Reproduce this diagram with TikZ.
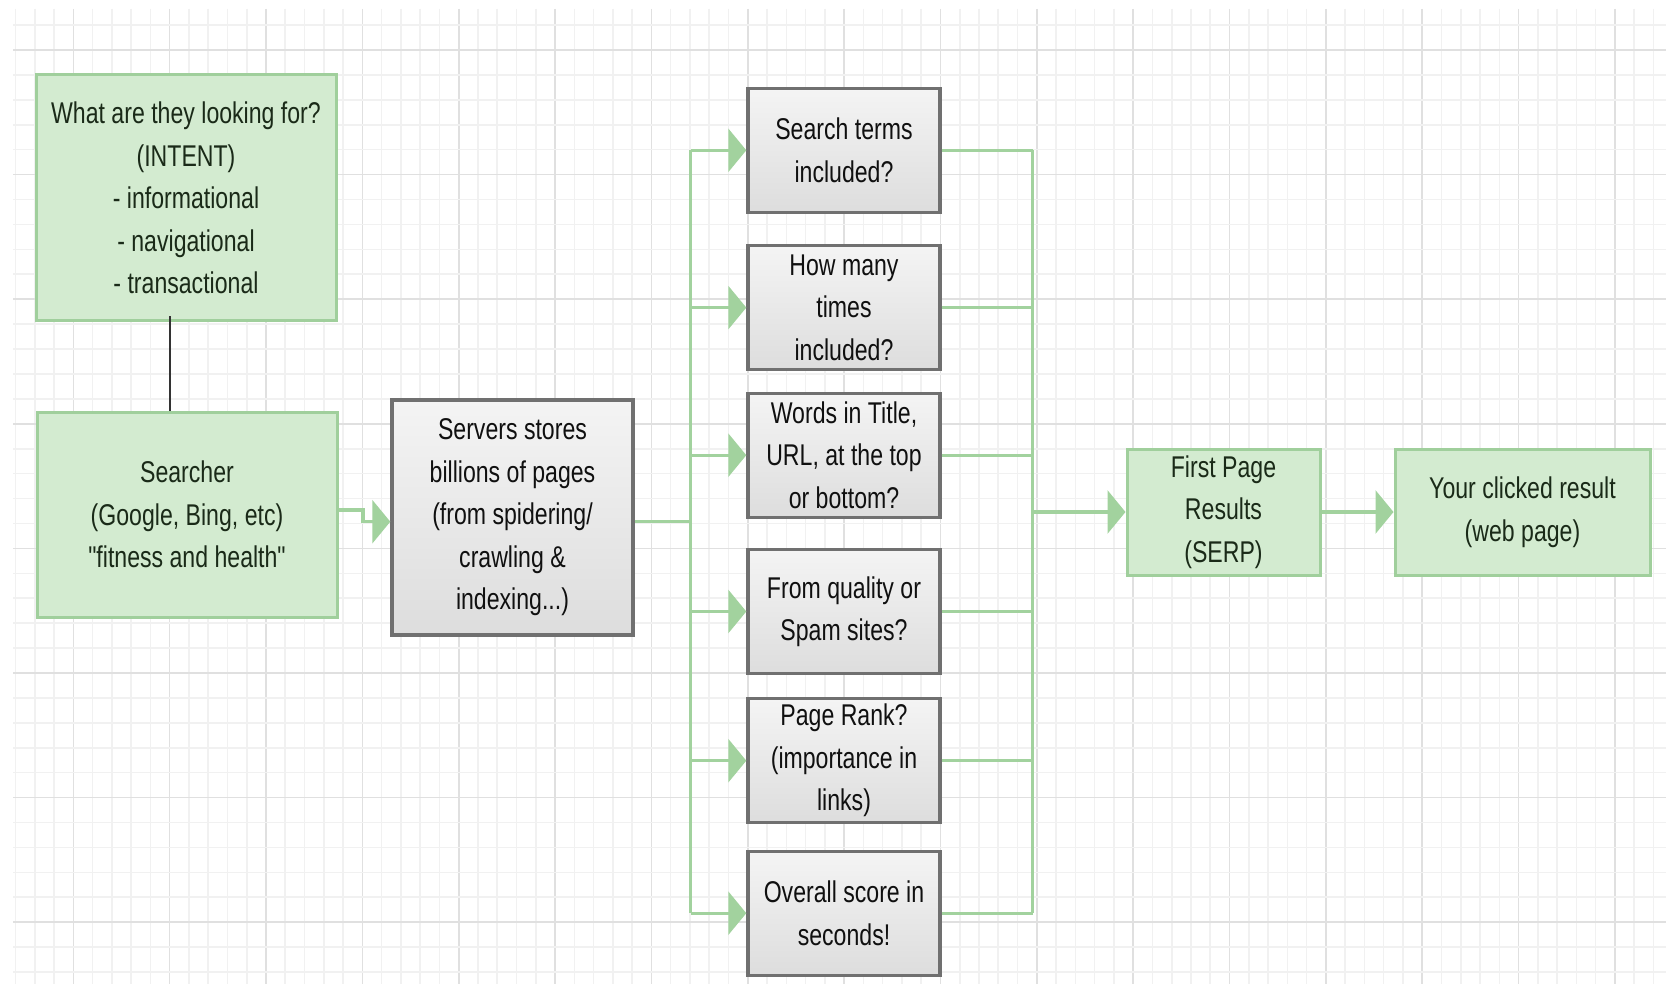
\documentclass[tikz,border=0pt]{standalone}
\usepackage{fontspec}
\setmainfont{Liberation Sans}[FakeStretch=0.77, Ligatures=TeXOff]
\usetikzlibrary{arrows.meta}

\definecolor{gridminor}{HTML}{F1F1F1}
\definecolor{gridmajor}{HTML}{E0E0E0}
\definecolor{greenfill}{HTML}{D3EBD0}
\definecolor{greenedge}{HTML}{A0CF9C}
\definecolor{greenwire}{HTML}{A2D29E}
\definecolor{grayedge}{HTML}{707070}
\definecolor{graytop}{HTML}{F4F4F4}
\definecolor{graybot}{HTML}{DDDDDD}
\definecolor{inkgreen}{HTML}{1A2A18}
\definecolor{inkgray}{HTML}{101010}

\tikzset{
  boxtext/.style={font=\fontsize{15}{21.25}\selectfont, align=center, inner sep=0pt},
  greenbox/.style={boxtext, draw=greenedge, fill=greenfill, line width=1.5pt, text=inkgreen},
  graybox/.style={boxtext, draw=grayedge, top color=graytop, bottom color=graybot, line width=1.7pt, text=inkgray},
  critbox/.style={graybox, minimum width=96pt, minimum height=62pt},
  wire/.style={draw=greenwire, line width=1.65pt},
  wirearrow/.style={wire, -{Triangle[length=9pt,width=21.5pt,fill=greenwire]}},
  darkwire/.style={draw=black!80, line width=1pt}
}

\begin{document}
\begin{tikzpicture}[x=0.5pt, y=-0.5pt]
\useasboundingbox (0,0) rectangle (1666,984);
\fill[white] (0,0) rectangle (1666,984);

% background grid: light minor lines, every fifth line darker
\foreach \i in {0,...,85} {
  \pgfmathsetmacro\gx{15.5+\i*19.27}
  \pgfmathtruncatemacro\gm{mod(\i+2,5)}
  \ifnum\gm=0
    \draw[gridmajor, line width=0.8pt] (\gx,9) -- (\gx,984);
  \else
    \draw[gridminor, line width=0.8pt] (\gx,9) -- (\gx,984);
  \fi
}
\foreach \j in {0,...,38} {
  \pgfmathsetmacro\gy{25.08+\j*24.92}
  \pgfmathtruncatemacro\gm{mod(\j+4,5)}
  \ifnum\gm=0
    \draw[gridmajor, line width=0.8pt] (13,\gy) -- (1666,\gy);
  \else
    \draw[gridminor, line width=0.8pt] (13,\gy) -- (1666,\gy);
  \fi
}

% boxes
\node[greenbox, minimum width=150pt, minimum height=123pt] (intent) at (186,198)
  {What are they looking for?\\(INTENT)\\- informational\\- navigational\\- transactional};
\node[greenbox, minimum width=150pt, minimum height=102.5pt] (searcher) at (187,514.5)
  {Searcher\\(Google, Bing, etc)\\"fitness and health"};
\node[graybox, minimum width=120.5pt, minimum height=117.5pt] (servers) at (512.5,517.5)
  {Servers stores\\billions of pages\\(from spidering/\\crawling \&\\indexing...)};

\node[critbox] (c1) at (844,150.3) {Search terms\\included?};
\node[critbox] (c2) at (844,307.6) {How many\\times\\included?};
\node[critbox] (c3) at (844,455.2) {Words in Title,\\URL, at the top\\or bottom?};
\node[critbox] (c4) at (844,611.5) {From quality or\\Spam sites?};
\node[critbox] (c5) at (844,760.7) {Page Rank?\\(importance in\\links)};
\node[critbox] (c6) at (844,913.2) {Overall score in\\seconds!};

\node[greenbox, minimum width=96.5pt, minimum height=63pt] (serp) at (1223.5,512)
  {First Page\\Results\\(SERP)};
\node[greenbox, minimum width=127.5pt, minimum height=63pt] (click) at (1522.5,512)
  {Your clicked result\\(web page)};

% connectors
\coordinate (jog) at (363,0);
\coordinate (tl) at (690.6,0);
\coordinate (tr) at (1032.75,0);

\draw[darkwire] ([xshift=-8pt,yshift=3pt]intent.south) -- ([xshift=-8pt]intent.south |- searcher.north);

\draw[wirearrow] ([yshift=2.25pt]searcher.east) -- ([yshift=2.25pt]searcher.east -| jog)
  -- ([yshift=-2.1pt]servers.west -| jog) -- ([yshift=-2.1pt]servers.west);

\draw[wire] ([yshift=-2.1pt]servers.east) -- ([yshift=-2.1pt]servers.east -| tl);
\draw[wire] (tl |- c1.west) -- (tl |- c6.west);
\draw[wire] (tr |- c1.east) -- (tr |- c6.east);
\foreach \c in {c1,c2,c3,c4,c5,c6} {
  \draw[wirearrow] (tl |- \c.west) -- (\c.west);
  \draw[wire] (\c.east) -- (tr |- \c.east);
}
\draw[wirearrow] (tr |- serp.west) -- (serp.west);
\draw[wirearrow] (serp.east) -- (click.west);
\end{tikzpicture}
\end{document}
